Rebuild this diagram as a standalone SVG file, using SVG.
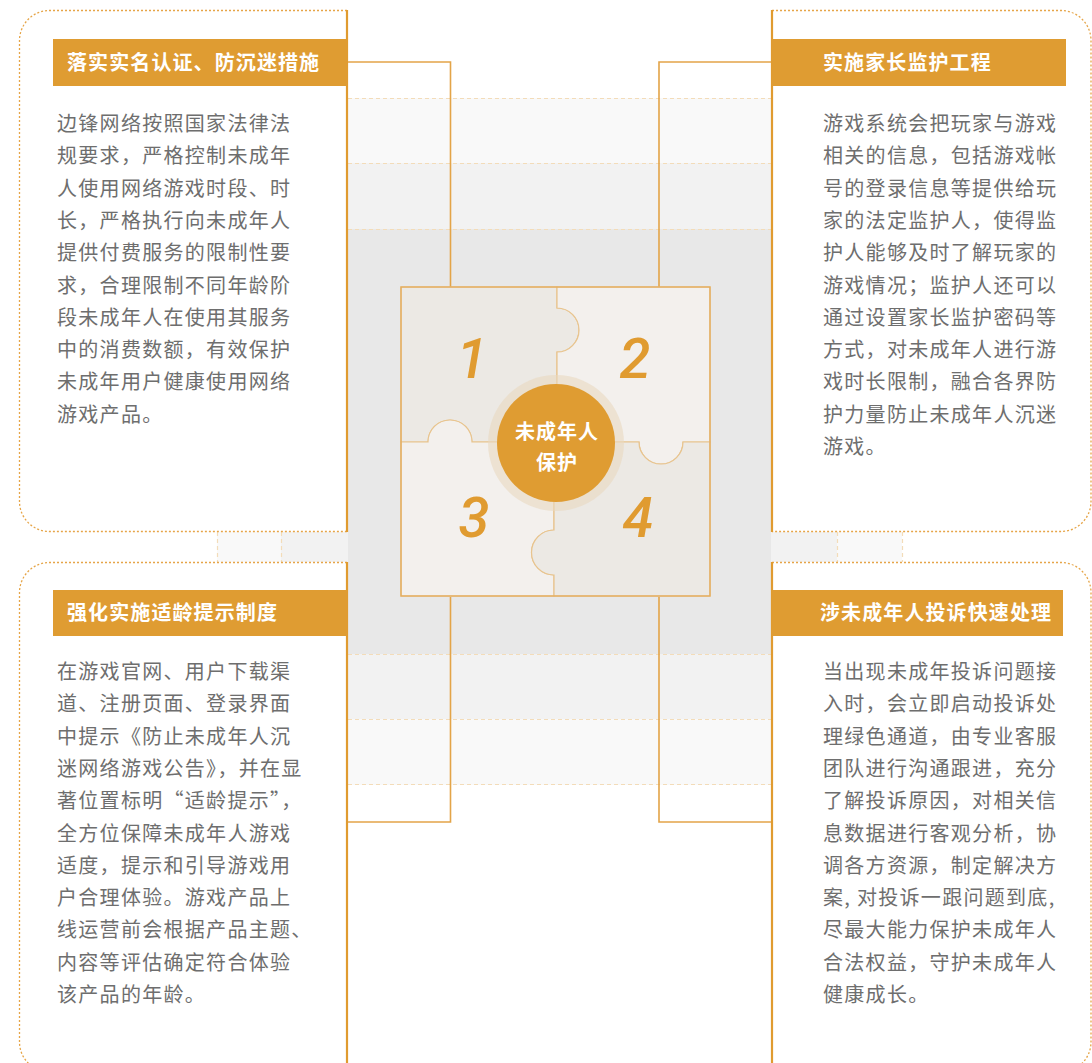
<svg xmlns="http://www.w3.org/2000/svg" width="1092" height="1063" viewBox="0 0 1092 1063">
<style>
.band-dash{stroke:#f3dcb9;stroke-width:1.2;stroke-dasharray:4 3;fill:none}
.card-dot{fill:none;stroke:#e6a548;stroke-width:1.3;stroke-dasharray:2 2}
.card-edge{stroke:#e09b30;stroke-width:2.2;fill:none}
.hdr{fill:#df9c32}
.hdr-t{font-family:"Noto Sans CJK SC","Noto Sans",sans-serif;font-weight:700;font-size:20px;letter-spacing:1.1px;fill:#ffffff}
.body-t{font-family:"Noto Sans CJK SC","Noto Sans",sans-serif;font-size:20px;letter-spacing:1.3px;fill:#6e6e6e}
.conn{fill:none;stroke:#e3a448;stroke-width:1.6}
.piece{stroke:#e8c48e;stroke-width:1.2}
.num{font-family:Roboto,"Liberation Sans",sans-serif;font-style:italic;font-weight:500;font-size:56px;fill:#e09b30;text-anchor:middle}
.ctr-t{font-family:"Noto Sans CJK SC","Noto Sans",sans-serif;font-weight:700;font-size:20px;letter-spacing:1px;fill:#ffffff;text-anchor:middle}
</style>

<g id="background">
  <rect x="348" y="98" width="423" height="65" fill="#f9f9f9"/>
  <rect x="348" y="163" width="423" height="66" fill="#f2f2f2"/>
  <rect x="348" y="229" width="423" height="425" fill="#e8e8e8"/>
  <rect x="348" y="654" width="423" height="65" fill="#f2f2f2"/>
  <rect x="348" y="719" width="423" height="66" fill="#f9f9f9"/>
  <rect x="217" y="532" width="64" height="30" fill="#f9f9f9"/>
  <rect x="281" y="532" width="67" height="30" fill="#f2f2f2"/>
  <rect x="771" y="532" width="66" height="30" fill="#f2f2f2"/>
  <rect x="837" y="532" width="65" height="30" fill="#f9f9f9"/>
  <path class="band-dash" d="M348,98.5 H771 M348,163.5 H771 M348,229.5 H771 M348,654.5 H771 M348,719.5 H771 M348,784.5 H771"/>
  <path class="band-dash" d="M217.5,532 V562 M281.5,532 V562 M837.5,532 V562 M902.5,532 V562"/>
</g>

<g id="card-1">
  <path class="card-dot" d="M347,10.5 H49 A30,30 0 0 0 19.5,40 V501 A30,30 0 0 0 49,531.5 H347"/>
  <path class="card-edge" d="M347,10 V532"/>
  <rect class="hdr" x="53" y="39" width="294" height="47"/>
  <text class="hdr-t" x="67" y="70">落实实名认证、防沉迷措施</text>
  <text class="body-t" x="57" y="131">
    <tspan x="57" dy="0">边锋网络按照国家法律法</tspan>
    <tspan x="57" dy="32.3">规要求，严格控制未成年</tspan>
    <tspan x="57" dy="32.3">人使用网络游戏时段、时</tspan>
    <tspan x="57" dy="32.3">长，严格执行向未成年人</tspan>
    <tspan x="57" dy="32.3">提供付费服务的限制性要</tspan>
    <tspan x="57" dy="32.3">求，合理限制不同年龄阶</tspan>
    <tspan x="57" dy="32.3">段未成年人在使用其服务</tspan>
    <tspan x="57" dy="32.3">中的消费数额，有效保护</tspan>
    <tspan x="57" dy="32.3">未成年用户健康使用网络</tspan>
    <tspan x="57" dy="32.3">游戏产品。</tspan>
  </text>
</g>

<g id="card-2">
  <path class="card-dot" d="M772,10.5 H1061 A30,30 0 0 1 1091,40 V501 A30,30 0 0 1 1061,531.5 H772"/>
  <path class="card-edge" d="M772,10 V532"/>
  <rect class="hdr" x="772" y="39" width="294" height="47"/>
  <text class="hdr-t" x="823" y="70">实施家长监护工程</text>
  <text class="body-t" x="823" y="131">
    <tspan x="823" dy="0">游戏系统会把玩家与游戏</tspan>
    <tspan x="823" dy="32.3">相关的信息，包括游戏帐</tspan>
    <tspan x="823" dy="32.3">号的登录信息等提供给玩</tspan>
    <tspan x="823" dy="32.3">家的法定监护人，使得监</tspan>
    <tspan x="823" dy="32.3">护人能够及时了解玩家的</tspan>
    <tspan x="823" dy="32.3">游戏情况；监护人还可以</tspan>
    <tspan x="823" dy="32.3">通过设置家长监护密码等</tspan>
    <tspan x="823" dy="32.3">方式，对未成年人进行游</tspan>
    <tspan x="823" dy="32.3">戏时长限制，融合各界防</tspan>
    <tspan x="823" dy="32.3">护力量防止未成年人沉迷</tspan>
    <tspan x="823" dy="32.3">游戏。</tspan>
  </text>
</g>

<g id="card-3">
  <path class="card-dot" d="M347,562.5 H49 A30,30 0 0 0 19.5,592 V1042 A30,30 0 0 0 49,1072 H347"/>
  <path class="card-edge" d="M347,562 V1063"/>
  <rect class="hdr" x="53" y="590" width="294" height="46"/>
  <text class="hdr-t" x="67" y="620">强化实施适龄提示制度</text>
  <text class="body-t" x="57" y="679">
    <tspan x="57" dy="0">在游戏官网、用户下载渠</tspan>
    <tspan x="57" dy="32.3">道、注册页面、登录界面</tspan>
    <tspan x="57" dy="32.3">中提示《防止未成年人沉</tspan>
    <tspan x="57" dy="32.3">迷网络游戏公告》，并在显</tspan>
    <tspan x="57" dy="32.3">著位置标明“适龄提示”，</tspan>
    <tspan x="57" dy="32.3">全方位保障未成年人游戏</tspan>
    <tspan x="57" dy="32.3">适度，提示和引导游戏用</tspan>
    <tspan x="57" dy="32.3">户合理体验。游戏产品上</tspan>
    <tspan x="57" dy="32.3">线运营前会根据产品主题、</tspan>
    <tspan x="57" dy="32.3">内容等评估确定符合体验</tspan>
    <tspan x="57" dy="32.3">该产品的年龄。</tspan>
  </text>
</g>

<g id="card-4">
  <path class="card-dot" d="M772,562.5 H1061 A30,30 0 0 1 1091,592 V1042 A30,30 0 0 1 1061,1072 H772"/>
  <path class="card-edge" d="M772,562 V1063"/>
  <rect class="hdr" x="772" y="590" width="291" height="46"/>
  <text class="hdr-t" x="820" y="620">涉未成年人投诉快速处理</text>
  <text class="body-t" x="823" y="679">
    <tspan x="823" dy="0">当出现未成年投诉问题接</tspan>
    <tspan x="823" dy="32.3">入时，会立即启动投诉处</tspan>
    <tspan x="823" dy="32.3">理绿色通道，由专业客服</tspan>
    <tspan x="823" dy="32.3">团队进行沟通跟进，充分</tspan>
    <tspan x="823" dy="32.3">了解投诉原因，对相关信</tspan>
    <tspan x="823" dy="32.3">息数据进行客观分析，协</tspan>
    <tspan x="823" dy="32.3">调各方资源，制定解决方</tspan>
    <tspan x="823" dy="32.3">案, 对投诉一跟问题到底,</tspan>
    <tspan x="823" dy="32.3">尽最大能力保护未成年人</tspan>
    <tspan x="823" dy="32.3">合法权益，守护未成年人</tspan>
    <tspan x="823" dy="32.3">健康成长。</tspan>
  </text>
</g>

<g id="connectors">
  <path class="conn" d="M348,62 H450.5 V287"/>
  <path class="conn" d="M771,62 H659 V287"/>
  <path class="conn" d="M348,822 H450.5 V597"/>
  <path class="conn" d="M771,822 H659 V597"/>
</g>

<g id="puzzle">
  <g id="piece-1">
    <path class="piece" fill="#ece9e4" d="M401,287 H557 V308 A22,22 0 0 1 557,352 V442 H472 A22,22 0 0 0 428,442 H401 Z"/>
    <text class="num" x="472" y="378">1</text>
  </g>
  <g id="piece-2">
    <path class="piece" fill="#f3f0ed" d="M557,287 H710 V442 H683 A22,22 0 0 1 639,442 H557 V352 A22,22 0 0 0 557,308 Z"/>
    <text class="num" x="635" y="378">2</text>
  </g>
  <g id="piece-3">
    <path class="piece" fill="#f3f0ed" d="M401,442 H428 A22,22 0 0 1 472,442 H554 V530 A22.5,22.5 0 0 0 554,575 V596 H401 Z"/>
    <text class="num" x="474" y="537">3</text>
  </g>
  <g id="piece-4">
    <path class="piece" fill="#ece9e4" d="M554,442 H639 A22,22 0 0 0 683,442 H710 V596 H554 V575 A22.5,22.5 0 0 1 554,530 Z"/>
    <text class="num" x="638" y="537">4</text>
  </g>
  <rect x="401" y="287" width="309" height="309" fill="none" stroke="#e4ad5e" stroke-width="1.4"/>
</g>

<g id="center">
  <circle cx="556" cy="443" r="68" fill="#ead8bf" fill-opacity="0.6"/>
  <circle cx="556" cy="443" r="59" fill="#df9c32"/>
  <text class="ctr-t" x="557" y="439">未成年人</text>
  <text class="ctr-t" x="557" y="470">保护</text>
</g>
</svg>
